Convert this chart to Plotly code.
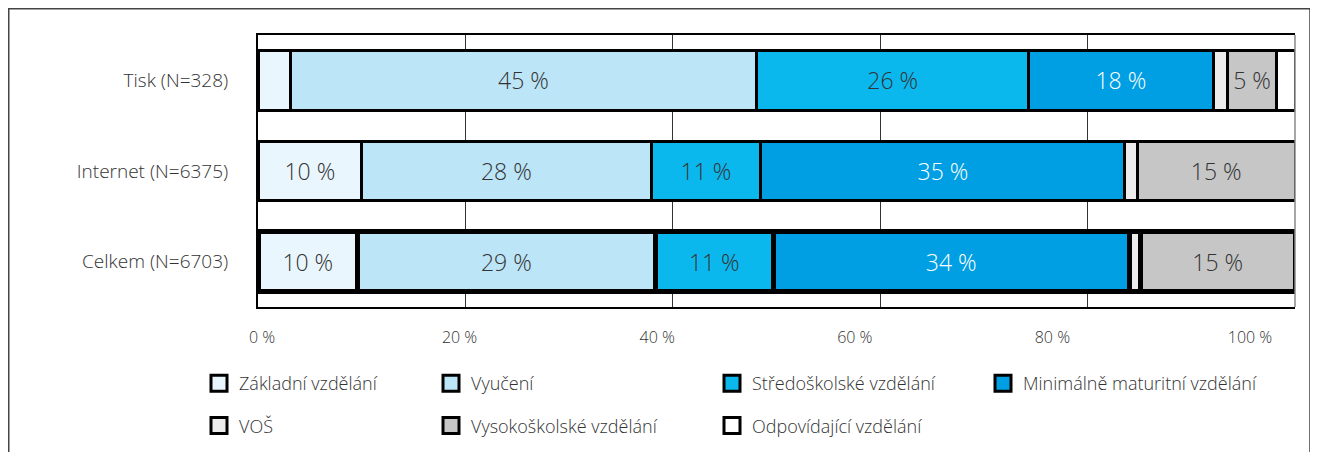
import plotly.graph_objects as go

categories = ["Tisk (N=328)", "Internet (N=6375)", "Celkem (N=6703)"]

series_names = [
    "Základní vzdělání",
    "Vyučení",
    "Středoškolské vzdělání",
    "Minimálně maturitní vzdělání",
    "VOŠ",
    "Vysokoškolské vzdělání",
    "Odpovídající vzdělání",
]

zakladni = [3.1, 10.0, 9.6]
vyuceni = [45.0, 27.9, 28.7]
stredoskolske = [26.2, 10.6, 11.4]
min_maturitni = [17.8, 35.1, 34.3]
vos = [1.4, 1.2, 1.1]
vysokoskolske = [4.7, 15.2, 14.9]
odpovidajici = [1.8, 0.0, 0.0]

series_values = [zakladni, vyuceni, stredoskolske, min_maturitni, vos, vysokoskolske, odpovidajici]

colors = ["#eaf6fe", "#bde5f8", "#0bb8ee", "#009ee2", "#ececec", "#c6c6c6", "#ffffff"]
text_colors = ["#333333", "#333333", "#333333", "#ffffff", "#333333", "#333333", "#333333"]

x_ticks = [0, 20, 40, 60, 80, 100]
x_tick_labels = ["0 %", "20 %", "40 %", "60 %", "80 %", "100 %"]

# legend column / row assignment
legend_ids = ["legend", "legend2", "legend3", "legend4", "legend", "legend2", "legend3"]

FONT = "'Open Sans', Lato, sans-serif"
WEIGHT = 300

# page is offset by the default 8px body margin; work in figure pixels
OFF = 8
W, H = 1318 - OFF, 452 - OFF
L, R, T, B = 258 - OFF, 1318 - 1295, 35 - OFF, 452 - 307
pw = W - L - R
ph = H - T - B


def px_x(p):
    return (p - L) / pw


def px_y(p):
    return (H - B - p) / ph


fig = go.Figure()

line_widths = [3, 3, 5]

for i, (name, vals) in enumerate(zip(series_names, series_values)):
    labels = [f"{round(v)} %" if v >= 4.5 else "" for v in vals]
    fig.add_trace(go.Bar(
        y=categories,
        x=vals,
        name=name,
        orientation="h",
        marker=dict(color=colors[i], line=dict(color="#000000", width=line_widths)),
        text=labels,
        textposition="inside",
        insidetextanchor="middle",
        textangle=0,
        textfont=dict(family=FONT, size=23, color=text_colors[i], weight=WEIGHT),
        legend=legend_ids[i],
        legendgroup=f"g{i}",
        showlegend=False,
        hoverinfo="skip",
    ))

# legend keys (larger square swatches, same series)
for i, name in enumerate(series_names):
    fig.add_trace(go.Scatter(
        x=[None],
        y=[None],
        mode="markers",
        name=name,
        marker=dict(symbol="square", size=16, color=colors[i],
                    line=dict(color="#000000", width=3)),
        legend=legend_ids[i],
        legendgroup=f"g{i}",
        showlegend=True,
        hoverinfo="skip",
    ))

# empty trace to register the label axis
fig.add_trace(go.Scatter(x=[], y=[], xaxis="x2", yaxis="y", showlegend=False, hoverinfo="skip"))

# label axis scale (labels placed slightly narrower than grid)
lab0, lab100 = 262 - OFF, 1250 - OFF
scale = (lab100 - lab0) / 100.0
x2_range = [(L - lab0) / scale, (L + pw - lab0) / scale]

legend_common = dict(
    orientation="v",
    xref="paper",
    yref="paper",
    xanchor="left",
    yanchor="top",
    font=dict(family=FONT, size=18, color="#333333", weight=WEIGHT),
    traceorder="grouped",
    tracegroupgap=16,
    bgcolor="rgba(0,0,0,0)",
    itemclick=False,
    itemdoubleclick=False,
)
ly = px_y(357)

fig.update_layout(
    width=W,
    height=H,
    margin=dict(l=L, r=R, t=T, b=B, pad=0, autoexpand=False),
    barmode="stack",
    bargap=0.34,
    plot_bgcolor="#ffffff",
    paper_bgcolor="#ffffff",
    font=dict(family=FONT, size=15, color="#333333", weight=WEIGHT),
    uniformtext=dict(mode="show", minsize=23),
    xaxis=dict(
        range=[0, 100],
        tickvals=[20, 40, 60, 80],
        showticklabels=False,
        showgrid=True,
        gridcolor="#333333",
        gridwidth=1,
        zeroline=False,
        showline=True,
        linecolor="#000000",
        linewidth=2,
        mirror=True,
        ticks="",
        fixedrange=True,
    ),
    xaxis2=dict(
        overlaying="x",
        side="bottom",
        anchor="y",
        range=x2_range,
        tickvals=x_ticks,
        ticktext=x_tick_labels,
        tickangle=0,
        showgrid=False,
        zeroline=False,
        showline=False,
        ticks="",
        ticklabelstandoff=19,
        tickfont=dict(family=FONT, size=16, color="#333333", weight=WEIGHT),
        fixedrange=True,
    ),
    yaxis=dict(
        type="category",
        categoryorder="array",
        categoryarray=categories,
        autorange="reversed",
        showgrid=False,
        zeroline=False,
        showline=True,
        linecolor="#000000",
        linewidth=2,
        ticks="",
        ticklabelstandoff=24,
        tickfont=dict(family=FONT, size=19, color="#333333", weight=WEIGHT),
        fixedrange=True,
    ),
    legend=dict(x=px_x(199 - OFF), y=ly, **legend_common),
    legend2=dict(x=px_x(431 - OFF), y=ly, **legend_common),
    legend3=dict(x=px_x(712 - OFF), y=ly, **legend_common),
    legend4=dict(x=px_x(983 - OFF), y=ly, **legend_common),
    shapes=[
        dict(type="line", xref="paper", yref="paper", x0=1, x1=1, y0=0, y1=1,
             line=dict(color="#888888", width=1.5), layer="above"),
        dict(type="rect", xref="paper", yref="paper",
             x0=px_x(0.75), x1=px_x(1310 - OFF), y0=px_y(470), y1=px_y(0.75),
             line=dict(color="#444444", width=1.5), layer="below"),
    ],
)

fig.write_html("out.html")
